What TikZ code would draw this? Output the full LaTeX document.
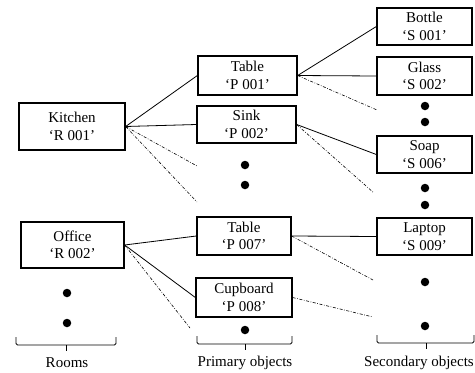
\documentclass[tikz,border=0pt]{standalone}
\usepackage{fontspec}
\setmainfont{Liberation Serif}
\begin{document}
\begin{tikzpicture}[x=1pt,y=-1pt,
  box/.style={draw,line width=1.3pt,inner sep=0pt,align=center,
    font=\fontsize{15}{17.5}\selectfont},
  link/.style={line width=0.8pt},
  maybe/.style={line width=0.6pt,dash pattern=on 3pt off 1.6pt on 0.7pt off 1.6pt},
  more/.style={fill,circle,inner sep=0pt,minimum size=8.5pt},
  brace/.style={line width=0.9pt,rounded corners=1.5pt},
  caption/.style={font=\fontsize{15}{17.5}\selectfont}]
\useasboundingbox (0,0) rectangle (475,373);

% rooms
\node[box,minimum width=106pt,minimum height=47pt] (kitchen) at (72,126.5) {Kitchen\\‘R 001’};
\node[box,minimum width=103pt,minimum height=46pt] (office) at (72.5,245) {Office\\‘R 002’};

% primary objects
\node[box,minimum width=99pt,minimum height=39pt] (table1) at (247.5,75.5) {Table\\‘P 001’};
\node[box,minimum width=99pt,minimum height=37pt] (sink) at (246.5,124.5) {Sink\\‘P 002’};
\node[box,minimum width=94pt,minimum height=38pt] (table7) at (244,236) {Table\\‘P 007’};
\node[box,minimum width=96pt,minimum height=39pt] (cupboard) at (244,297.5) {Cupboard\\‘P 008’};

% secondary objects
\node[box,minimum width=95pt,minimum height=37pt] (bottle) at (424.5,26.5) {Bottle\\‘S 001’};
\node[box,minimum width=95pt,minimum height=38pt] (glass) at (424.5,76) {Glass\\‘S 002’};
\node[box,minimum width=95pt,minimum height=37pt] (soap) at (424.5,154.5) {Soap\\‘S 006’};
\node[box,minimum width=95pt,minimum height=37pt] (laptop) at (424.5,236.5) {Laptop\\‘S 009’};

% ellipsis dots
\node[more] (r1) at (67,293) {};
\node[more] (r2) at (67,323) {};
\node[more] (p1) at (245,165) {};
\node[more] (p2) at (245,185) {};
\node[more] (p3) at (245,330) {};
\node[more] (s1) at (425,106) {};
\node[more] (s2) at (425,122) {};
\node[more] (s3) at (425,188) {};
\node[more] (s4) at (425,205) {};
\node[more] (s5) at (425,282) {};
\node[more] (s6) at (425,326) {};

% loose ends of the dash-dotted links
\coordinate (k1) at (197,166);
\coordinate (k2) at (197,202);
\coordinate (o1) at (190,328);
\coordinate (t1) at (377,110);
\coordinate (n1) at (374,193);
\coordinate (t7) at (373,280);
\coordinate (c1) at (373,317);

% solid links
\draw[link] (kitchen.east) -- (table1.west);
\draw[link] (kitchen.east) -- (sink.west);
\draw[link] (office.east) -- (table7.west);
\draw[link] (office.east) -- (cupboard.west);
\draw[link] (table1.east) -- (bottle.west);
\draw[link] (table1.east) -- (glass.west);
\draw[link] (sink.east) -- (soap.west);
\draw[link] (table7.east) -- (laptop.west);

% dash-dotted links
\draw[maybe] (kitchen.east) -- (k1);
\draw[maybe] (kitchen.east) -- (k2);
\draw[maybe] (office.east) -- (o1);
\draw[maybe] (table1.east) -- (t1);
\draw[maybe] (sink.east) -- (n1);
\draw[maybe] (table7.east) -- (t7);
\draw[maybe] (cupboard.east) -- (c1);

% braces
\draw[brace] (16,337) -- (16,345) -- (116,345) -- (116,337);
\draw[line width=0.9pt] (66,345) -- (66,351);
\draw[brace] (197,336) -- (197,344) -- (292,344) -- (292,336);
\draw[line width=0.9pt] (245,344) -- (245,350);
\draw[brace] (377,335) -- (377,343) -- (474,343) -- (474,335);
\draw[line width=0.9pt] (426,343) -- (426,349);

% column captions
\node[caption] (rooms) at (67,363) {Rooms};
\node[caption] (prim) at (245,363) {Primary objects};
\node[caption] (sec) at (419,363) {Secondary objects};
\end{tikzpicture}
\end{document}
